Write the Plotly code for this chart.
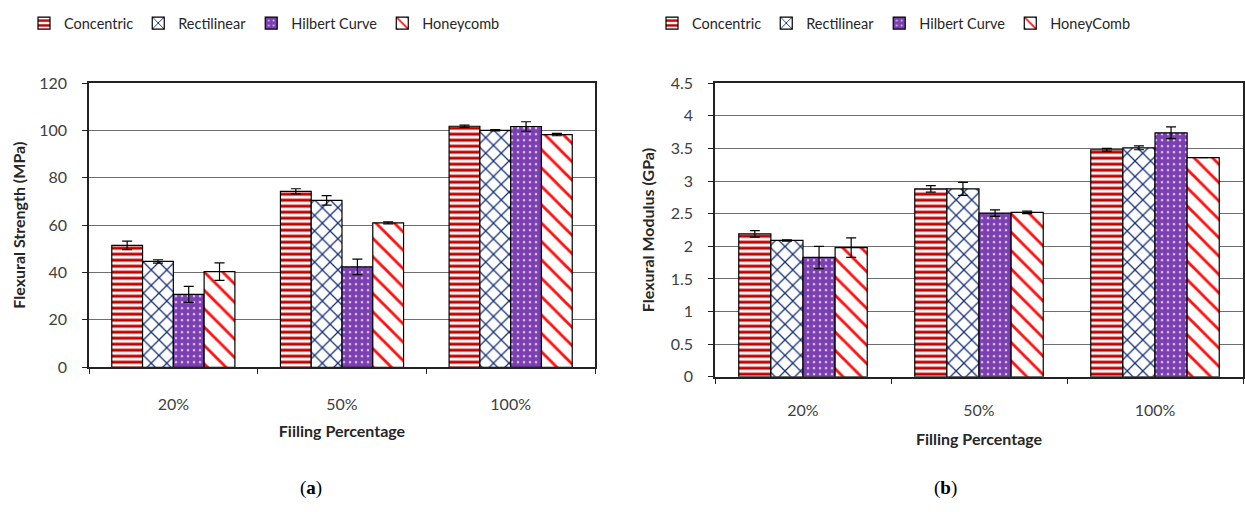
import plotly.graph_objects as go

# Filling percentages on the x axis
categories = ["20%", "50%", "100%"]

# Flexural strength (MPa) per infill pattern
strength_concentric = [51.5, 74.3, 101.8]
strength_rectilinear = [44.7, 70.5, 100.1]
strength_hilbert = [30.8, 42.4, 101.7]
strength_honeycomb = [40.4, 61.0, 98.3]

strength_err_concentric = [1.8, 1.1, 0.5]
strength_err_rectilinear = [0.7, 2.0, 0.3]
strength_err_hilbert = [3.4, 3.3, 2.0]
strength_err_honeycomb = [3.7, 0.4, 0.5]

# Flexural modulus (GPa) per infill pattern
modulus_concentric = [2.19, 2.88, 3.48]
modulus_rectilinear = [2.09, 2.88, 3.51]
modulus_hilbert = [1.83, 2.51, 3.74]
modulus_honeycomb = [1.98, 2.52, 3.36]

modulus_err_concentric = [0.05, 0.05, 0.02]
modulus_err_rectilinear = [0.01, 0.10, 0.03]
modulus_err_hilbert = [0.17, 0.05, 0.09]
modulus_err_honeycomb = [0.15, 0.02, 0.0]

names_left = ["Concentric", "Rectilinear", "Hilbert Curve", "Honeycomb"]
names_right = ["Concentric", "Rectilinear", "Hilbert Curve", "HoneyComb"]

RED = "#C00000"
NAVY = "#16307A"
PURPLE = "#7B3FB0"
HONEY = "#FF1010"

styles = [
    dict(color="white", pattern=dict(shape="-", fgcolor=RED, bgcolor="white", fgopacity=1,
                                     size=6, solidity=0.5)),
    dict(color="white", pattern=dict(shape="x", fgcolor=NAVY, bgcolor="white", fgopacity=1,
                                     size=11, solidity=0.22)),
    dict(color=PURPLE, pattern=dict(shape=".", fgcolor="#D6BFEA", bgcolor=PURPLE, fgopacity=1,
                                    size=6, solidity=0.15)),
    dict(color="white", pattern=dict(shape="\\", fgcolor=HONEY, bgcolor="white", fgopacity=1,
                                     size=13, solidity=0.22)),
]

fig = go.Figure()

left_vals = [strength_concentric, strength_rectilinear, strength_hilbert, strength_honeycomb]
left_errs = [strength_err_concentric, strength_err_rectilinear, strength_err_hilbert, strength_err_honeycomb]
right_vals = [modulus_concentric, modulus_rectilinear, modulus_hilbert, modulus_honeycomb]
right_errs = [modulus_err_concentric, modulus_err_rectilinear, modulus_err_hilbert, modulus_err_honeycomb]

for i in range(4):
    fig.add_trace(go.Bar(
        x=categories, y=left_vals[i], name=names_left[i],
        marker=dict(line=dict(color="black", width=1.2), **styles[i]),
        error_y=dict(type="data", array=left_errs[i], color="black", thickness=1.2, width=5),
        xaxis="x", yaxis="y", legend="legend",
    ))
for i in range(4):
    fig.add_trace(go.Bar(
        x=categories, y=right_vals[i], name=names_right[i],
        marker=dict(line=dict(color="black", width=1.2), **styles[i]),
        error_y=dict(type="data", array=right_errs[i], color="black", thickness=1.2, width=5),
        xaxis="x2", yaxis="y2", legend="legend2",
    ))

W, H = 1245, 512
FONT = "Lato, Noto Sans, sans-serif"
tick_font = dict(family=FONT, size=16, color="#404040")
title_font = dict(family=FONT, size=16, color="#262626")
axis_common = dict(showline=True, linecolor="#222222", linewidth=1.5, mirror=True,
                   ticks="outside", ticklen=5, tickcolor="#222222", tickfont=tick_font)

legend_common = dict(orientation="h", xanchor="left", yanchor="top", bgcolor="rgba(0,0,0,0)",
                     font=dict(family=FONT, size=14.5, color="#262626"),
                     itemwidth=30, tracegroupgap=0)

fig.update_layout(
    width=W, height=H,
    margin=dict(l=0, r=0, t=0, b=0),
    paper_bgcolor="white", plot_bgcolor="white",
    barmode="group", bargap=0.27, bargroupgap=0,
    xaxis=dict(domain=[89 / W, 595 / W], anchor="y", tickson="boundaries", ticklabelstandoff=22,
               **axis_common,
               title=dict(text="<b>Fiiling Percentage</b>", font=title_font, standoff=14)),
    yaxis=dict(domain=[(H - 371) / H, (H - 76) / H], anchor="x", range=[0, 120], dtick=20,
               showgrid=True, gridcolor="#6E6E6E", gridwidth=1.4, ticklabelstandoff=12,
               **axis_common,
               title=dict(text="<b>Flexural Strength (MPa)</b>", font=title_font, standoff=10)),
    xaxis2=dict(domain=[715 / W, 1243 / W], anchor="y2", tickson="boundaries", ticklabelstandoff=18,
                **axis_common,
                title=dict(text="<b>Filling Percentage</b>", font=title_font, standoff=16)),
    yaxis2=dict(domain=[(H - 381) / H, (H - 76) / H], anchor="x2", range=[0, 4.5], dtick=0.5,
                showgrid=True, gridcolor="#6E6E6E", gridwidth=1.4, ticklabelstandoff=12,
                **axis_common,
                title=dict(text="<b>Flexural Modulus (GPa)</b>", font=title_font, standoff=12)),
    legend=dict(x=24 / W, y=1 + 3 / H, **legend_common),
    legend2=dict(x=652 / W, y=1 + 3 / H, **legend_common),
    annotations=[
        dict(text="(<b>a</b>)", x=311 / W, y=1 - 496 / H, xref="paper", yref="paper",
             xanchor="center", yanchor="middle", showarrow=False,
             font=dict(family="Liberation Serif, serif", size=19, color="black")),
        dict(text="(<b>b</b>)", x=945 / W, y=1 - 496 / H, xref="paper", yref="paper",
             xanchor="center", yanchor="middle", showarrow=False,
             font=dict(family="Liberation Serif, serif", size=19, color="black")),
    ],
)

fig.write_html("out.html")
